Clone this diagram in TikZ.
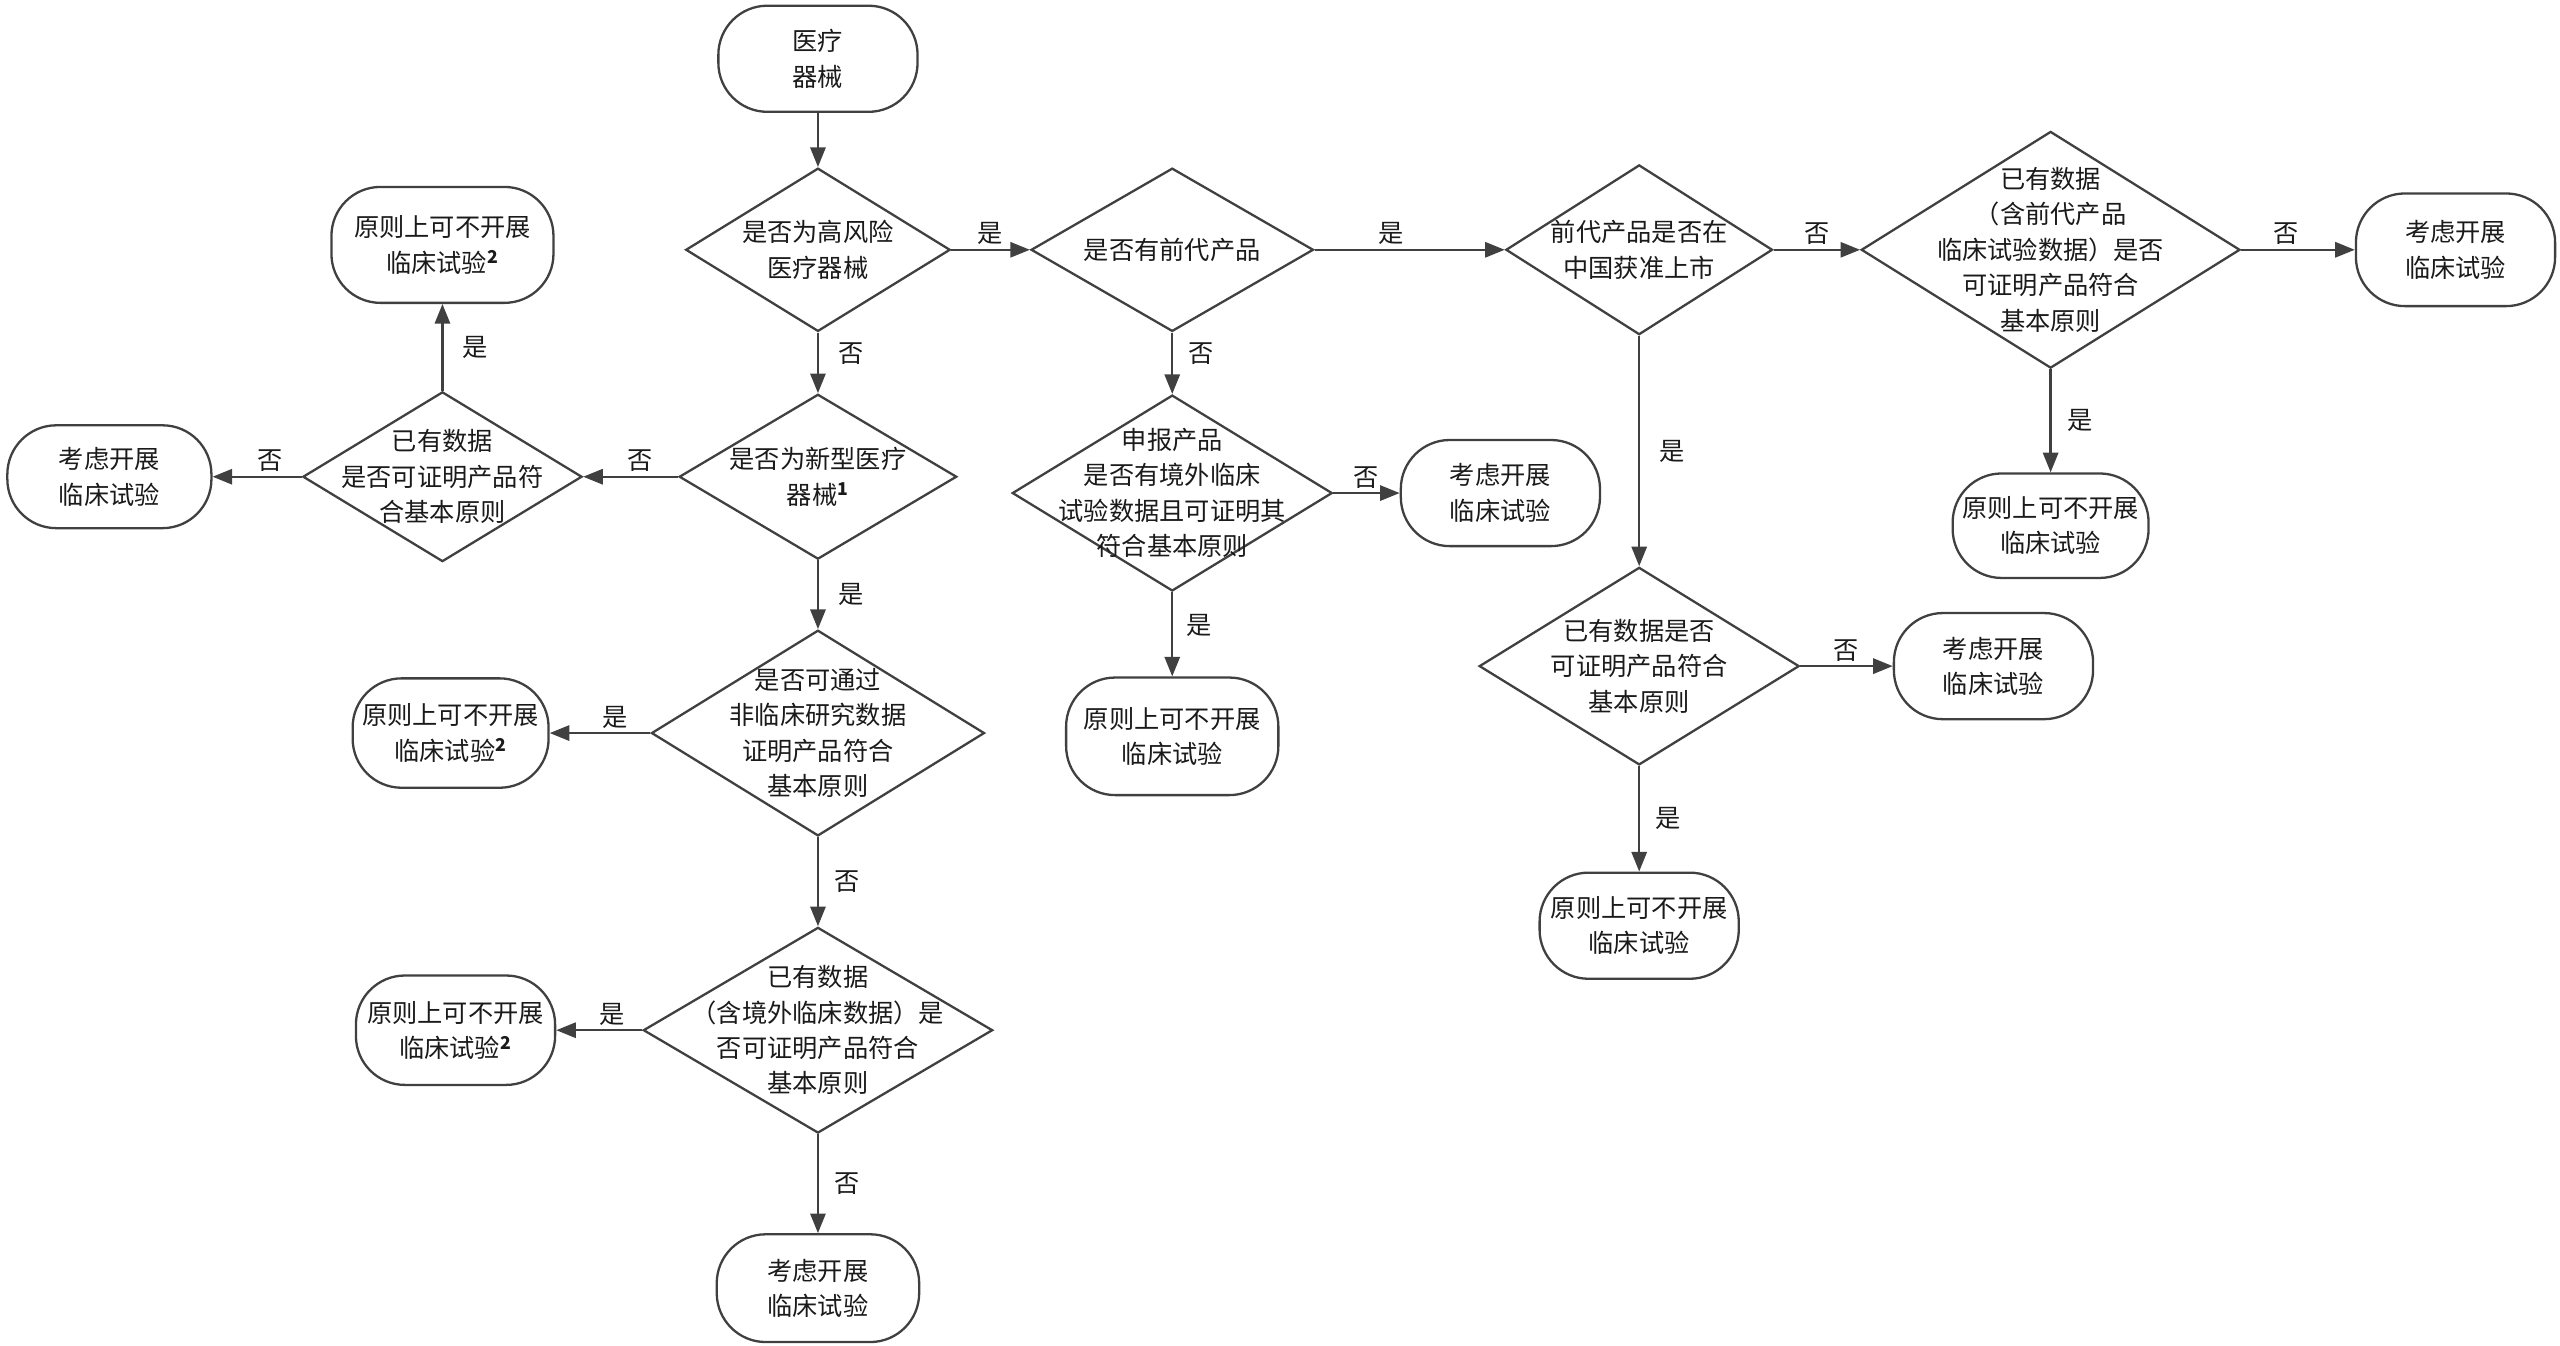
\documentclass[tikz,border=0pt]{standalone}
\usepackage{fontspec}
\setmainfont{Noto Sans CJK SC}
\usepackage{xcolor}
\usepackage{tikz}
\usetikzlibrary{shapes.geometric, arrows.meta}
\definecolor{lineg}{HTML}{404040}
\definecolor{ink}{HTML}{1a1a1a}

\begin{document}
\begin{tikzpicture}[
  term/.style={rectangle, rounded corners=0.9cm, draw=lineg, line width=1.2pt,
    minimum width=3.66cm, minimum height=1.95cm, align=center, text=ink,
    font=\fontsize{13.2pt}{18.5pt}\selectfont, inner sep=0pt},
  dia/.style 2 args={diamond, draw=lineg, line width=1.2pt, inner sep=0pt,
    minimum width=#1, minimum height=#2},
  txt/.style={align=center, text=ink, inner sep=0pt,
    font=\fontsize{13.2pt}{18.5pt}\selectfont},
  arr/.style={draw=lineg, line width=1.2pt, -{Triangle[length=3.6mm, width=2.8mm]}},
  lab/.style={text=ink, inner sep=2pt, font=\fontsize{13.2pt}{16pt}\selectfont}
]
\useasboundingbox (0,0) rectangle (47.04,-24.72);

\node[term] (start) at (15.03,-1.08) {医疗\\器械};

\node[dia={4.86cm}{3.0cm}] (risk) at (15.03,-4.59) {};
\node[txt] (riskt) at (risk) {是否为高风险\\医疗器械};
\node[dia={5.19cm}{3.0cm}] (prev) at (21.54,-4.59) {};
\node[txt] (prevt) at (prev) {是否有前代产品};
\node[dia={4.9cm}{3.12cm}] (china) at (30.12,-4.59) {};
\node[txt] (chinat) at (china) {前代产品是否在\\中国获准上市};
\node[dia={6.96cm}{4.35cm}] (prevdata) at (37.68,-4.59) {};
\node[txt] (prevdatat) at (prevdata) {已有数据\\（含前代产品\\临床试验数据）是否\\可证明产品符合\\基本原则};
\node[term, minimum height=2.07cm] (trialA) at (45.12,-4.59) {考虑开展\\临床试验};
\node[term, minimum width=3.6cm, minimum height=1.92cm] (skipA) at (37.68,-9.66) {原则上可不开展\\临床试验};

\node[dia={5.88cm}{3.63cm}] (chdata) at (30.12,-12.24) {};
\node[txt] (chdatat) at (chdata) {已有数据是否\\可证明产品符合\\基本原则};
\node[term] (trialB) at (36.63,-12.24) {考虑开展\\临床试验};
\node[term] (skipB) at (30.12,-17.01) {原则上可不开展\\临床试验};

\node[dia={5.88cm}{3.6cm}] (abroad) at (21.54,-9.06) {};
\node[txt] (abroadt) at (abroad) {申报产品\\是否有境外临床\\试验数据且可证明其\\符合基本原则};
\node[term] (trialC) at (27.57,-9.06) {考虑开展\\临床试验};
\node[term, minimum width=3.9cm, minimum height=2.16cm] (skipC) at (21.54,-13.53) {原则上可不开展\\临床试验};

\node[dia={5.1cm}{3.03cm}] (novel) at (15.03,-8.76) {};
\node[txt] (novelt) at (novel) {是否为新型医疗\\器械\textsuperscript{\textbf{1}}};
\node[dia={5.13cm}{3.12cm}] (olddata) at (8.13,-8.76) {};
\node[txt] (olddatat) at (olddata) {已有数据\\是否可证明产品符\\合基本原则};
\node[term, minimum width=4.08cm, minimum height=2.13cm] (skipD) at (8.13,-4.5) {原则上可不开展\\临床试验\textsuperscript{\textbf{2}}};
\node[term, minimum width=3.75cm, minimum height=1.89cm] (trialD) at (2.01,-8.76) {考虑开展\\临床试验};

\node[dia={6.12cm}{3.78cm}] (preclin) at (15.03,-13.47) {};
\node[txt] (preclint) at (preclin) {是否可通过\\非临床研究数据\\证明产品符合\\基本原则};
\node[term, minimum width=3.6cm, minimum height=2.01cm] (skipE) at (8.28,-13.47) {原则上可不开展\\临床试验\textsuperscript{\textbf{2}}};

\node[dia={6.42cm}{3.78cm}] (alldata) at (15.03,-18.93) {};
\node[txt] (alldatat) at (alldata) {已有数据\\（含境外临床数据）是\\否可证明产品符合\\基本原则};
\node[term, minimum height=2.01cm] (skipF) at (8.37,-18.93) {原则上可不开展\\临床试验\textsuperscript{\textbf{2}}};
\node[term, minimum width=3.72cm, minimum height=1.98cm] (trialE) at (15.03,-23.67) {考虑开展\\临床试验};

\draw[arr] (start) -- (risk.north);
\draw[arr] (risk.east) -- node[lab, above] {是} (prev.west);
\draw[arr] (prev.east) -- node[lab, above, pos=0.4] {是} (china.west);
\draw[arr] (china.east) -- node[lab, above] {否} (prevdata.west);
\draw[arr] (prevdata.east) -- node[lab, above, pos=0.4] {否} (trialA.west);
\draw[arr] (prevdata.south) -- node[lab, right=6pt] {是} (skipA.north);

\draw[arr] (china.south) -- node[lab, right=8pt] {是} (chdata.north);
\draw[arr] (chdata.east) -- node[lab, above] {否} (trialB.west);
\draw[arr] (chdata.south) -- node[lab, right=6pt] {是} (skipB.north);

\draw[arr] (prev.south) -- node[lab, right=6pt, pos=0.35] {否} (abroad.north);
\draw[arr] (abroad.east) -- node[lab, above] {否} (trialC.west);
\draw[arr] (abroad.south) -- node[lab, right=5pt, pos=0.4] {是} (skipC.north);

\draw[arr] (risk.south) -- node[lab, right=8pt, pos=0.35] {否} (novel.north);
\draw[arr] (novel.west) -- node[lab, above, pos=0.4] {否} (olddata.east);
\draw[arr] (olddata.north) -- node[lab, right=8pt] {是} (skipD.south);
\draw[arr] (olddata.west) -- node[lab, above, pos=0.35] {否} (trialD.east);

\draw[arr] (novel.south) -- node[lab, right=8pt] {是} (preclin.north);
\draw[arr] (preclin.west) -- node[lab, above, pos=0.35] {是} (skipE.east);
\draw[arr] (preclin.south) -- node[lab, right=6pt] {否} (alldata.north);
\draw[arr] (alldata.west) -- node[lab, above, pos=0.35] {是} (skipF.east);
\draw[arr] (alldata.south) -- node[lab, right=6pt] {否} (trialE.north);

\end{tikzpicture}
\end{document}
